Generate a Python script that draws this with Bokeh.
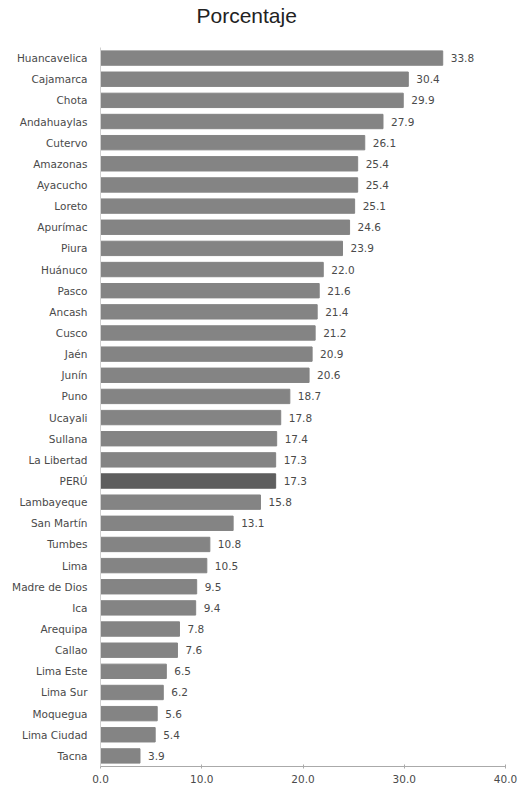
from bokeh.plotting import figure
from bokeh.models import ColumnDataSource, FactorRange, Title, CustomJSTickFormatter
from bokeh.core.properties import value
from bokeh.embed import file_html
from bokeh.resources import INLINE

categories = ["Huancavelica", "Cajamarca", "Chota", "Andahuaylas", "Cutervo", "Amazonas",
              "Ayacucho", "Loreto", "Apurímac", "Piura", "Huánuco", "Pasco", "Ancash",
              "Cusco", "Jaén", "Junín", "Puno", "Ucayali", "Sullana", "La Libertad", "PERÚ",
              "Lambayeque", "San Martín", "Tumbes", "Lima", "Madre de Dios", "Ica",
              "Arequipa", "Callao", "Lima Este", "Lima Sur", "Moquegua", "Lima Ciudad", "Tacna"]
values = [33.8, 30.4, 29.9, 27.9, 26.1, 25.4, 25.4, 25.1, 24.6, 23.9, 22.0, 21.6, 21.4,
          21.2, 20.9, 20.6, 18.7, 17.8, 17.4, 17.3, 17.3, 15.8, 13.1, 10.8, 10.5, 9.5, 9.4,
          7.8, 7.6, 6.5, 6.2, 5.6, 5.4, 3.9]
highlight = "PERÚ"
x_ticks = [0, 10, 20, 30, 40]
title_text = "Porcentaje"

FONT = "DejaVu Sans"
colors = ["#5e5e5e" if c == highlight else "#848484" for c in categories]
labels = [f"{v:.1f}" for v in values]

src = ColumnDataSource(dict(cat=categories, val=values, color=colors, label=labels))

p = figure(width=518, height=787, output_backend="svg", toolbar_location=None, title=None,
           y_range=FactorRange(*list(reversed(categories)), range_padding=0),
           x_range=(0, 40),
           min_border_left=100, min_border_right=13, min_border_top=47, min_border_bottom=21)

# spacer panel between frame and title
p.add_layout(Title(text=" ", text_font_size="1px", standoff=18), "above")
p.add_layout(Title(text=title_text, align="left", offset=96,
                   text_font="Liberation Sans",
                   text_font_size="21px", text_font_style="normal",
                   text_color="#222222", standoff=0), "above")

p.hbar(y="cat", right="val", left=0, height=0.68, color="color", source=src)
p.text(x="val", y="cat", text="label", source=src, x_offset=8,
       text_baseline="middle", text_align="left",
       text_font=value(FONT), text_font_size="10.5px", text_color="#4a4a4a")

p.xgrid.visible = False
p.ygrid.visible = False
p.outline_line_color = None

p.xaxis.ticker = x_ticks
p.xaxis.formatter = CustomJSTickFormatter(code="return tick.toFixed(1);")
p.xaxis.axis_line_color = "#aaaaaa"
p.xaxis.major_tick_line_color = "#aaaaaa"
p.xaxis.major_tick_in = 2
p.xaxis.major_tick_out = 2
p.xaxis.minor_tick_line_color = None
p.xaxis.major_label_standoff = 6
p.xaxis.major_label_text_font = FONT
p.xaxis.major_label_text_font_size = "10.5px"
p.xaxis.major_label_text_color = "#4a4a4a"

p.yaxis.axis_line_color = "#d0d0d0"
p.yaxis.major_tick_line_color = None
p.yaxis.minor_tick_line_color = None
p.yaxis.major_label_standoff = 7
p.yaxis.major_label_text_font = FONT
p.yaxis.major_label_text_font_size = "10.5px"
p.yaxis.major_label_text_color = "#4a4a4a"

open("out.html", "w").write(file_html(p, INLINE))
